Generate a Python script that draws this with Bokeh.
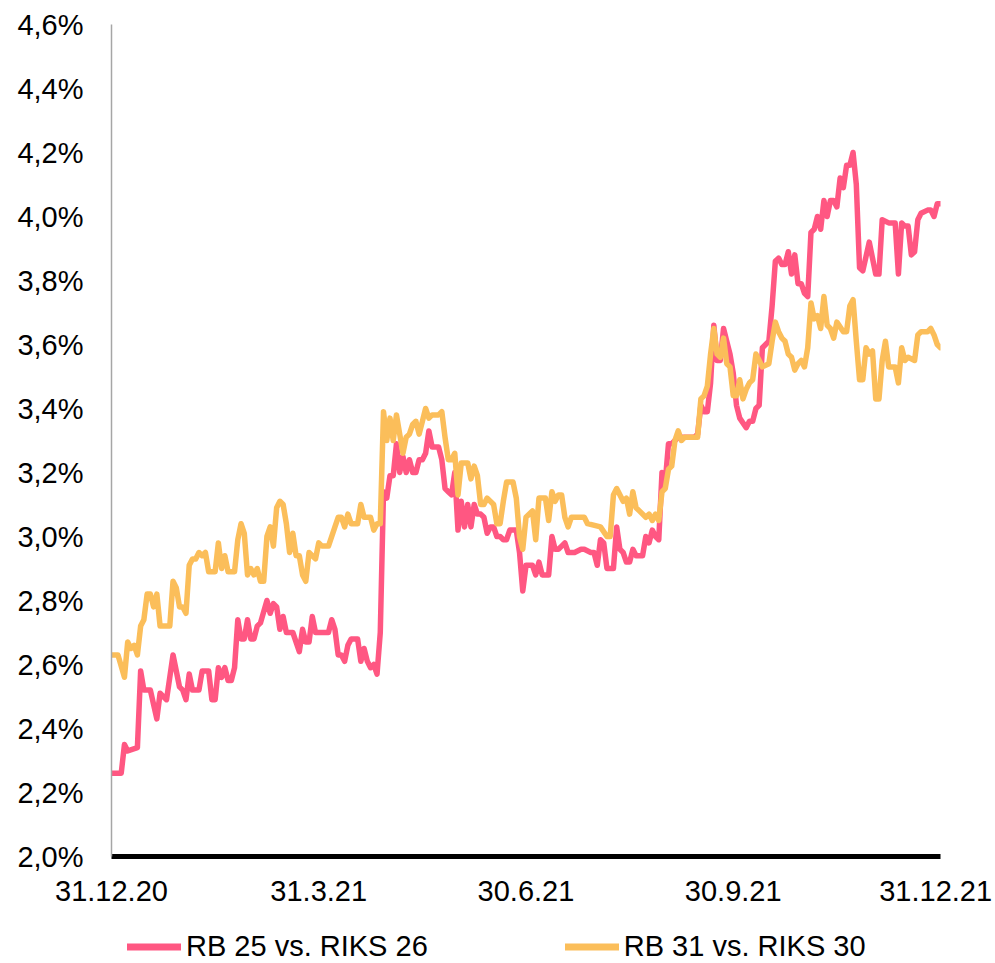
from bokeh.plotting import figure
from bokeh.layouts import column
from bokeh.models import Range1d, FixedTicker, CustomJSTickFormatter, Legend, LegendItem, ColumnDataSource
from bokeh.embed import file_html
from bokeh.resources import INLINE

# ---- data (trading-day index since 31.12.20, spread in %) ----
pink_day = [0, 3, 4, 5, 8, 9, 10, 12, 14, 15, 17, 19, 21, 22, 23, 24, 25, 27, 28, 30,
            31, 32, 33, 34, 35, 36, 37, 38, 39, 40, 41, 42, 43, 44, 45, 46, 48, 49, 50, 51,
            52, 53, 54, 56, 58, 59, 60, 61, 62, 63, 67, 68, 69, 70, 71, 72, 73, 74, 76, 77,
            78, 79, 80, 81, 82, 83, 84, 85, 86, 87, 88, 89, 90, 91, 92, 93, 94, 95, 96, 97,
            98, 99, 101, 102, 103, 104, 105, 106, 107, 108, 109, 110, 111, 112, 113, 114, 115, 116, 117, 118,
            119, 120, 121, 122, 123, 125, 126, 127, 128, 130, 131, 132, 133, 135, 136, 137, 138, 139, 140, 141,
            143, 145, 146, 148, 149, 150, 151, 152, 153, 155, 156, 157, 158, 159, 160, 161, 162, 164, 165, 166,
            167, 168, 169, 170, 171, 172, 173, 174, 175, 177, 180, 181, 182, 183, 184, 185, 186, 187, 188, 189,
            190, 191, 192, 193, 194, 196, 197, 198, 199, 200, 201, 202, 203, 204, 205, 206, 207, 208, 209, 210,
            211, 212, 213, 214, 215, 216, 217, 218, 219, 220, 221, 222, 223, 224, 225, 226, 227, 228, 229, 230,
            231, 232, 234, 235, 236, 237, 238, 240, 241, 242, 243, 244, 245, 246, 247, 248, 249, 250, 252, 253,
            254, 255, 256]
pink_val = [2.26, 2.26, 2.35, 2.33, 2.34, 2.58, 2.52, 2.52, 2.43, 2.51, 2.49, 2.63, 2.53, 2.52, 2.49, 2.57, 2.52, 2.52, 2.58, 2.58,
            2.49, 2.49, 2.59, 2.56, 2.59, 2.55, 2.55, 2.59, 2.74, 2.68, 2.68, 2.74, 2.68, 2.68, 2.72, 2.73, 2.80, 2.76, 2.79, 2.78,
            2.71, 2.75, 2.70, 2.70, 2.64, 2.71, 2.67, 2.67, 2.75, 2.70, 2.70, 2.74, 2.71, 2.63, 2.63, 2.61, 2.66, 2.68, 2.68, 2.61,
            2.65, 2.61, 2.59, 2.60, 2.57, 2.70, 3.14, 3.12, 3.19, 3.19, 3.29, 3.20, 3.25, 3.20, 3.24, 3.20, 3.20, 3.24, 3.24, 3.26,
            3.33, 3.28, 3.28, 3.24, 3.15, 3.14, 3.13, 3.20, 3.02, 3.11, 3.03, 3.10, 3.03, 3.10, 3.07, 3.07, 3.06, 3.01, 3.03, 3.03,
            3.00, 3.00, 2.99, 2.99, 3.02, 3.02, 2.95, 2.83, 2.91, 2.91, 2.88, 2.92, 2.88, 2.88, 3.00, 2.96, 2.96, 2.97, 2.98, 2.95,
            2.95, 2.96, 2.96, 2.95, 2.95, 2.91, 2.99, 2.98, 2.90, 2.90, 3.03, 2.96, 2.95, 2.92, 2.92, 2.96, 2.94, 2.94, 3.00, 2.98,
            3.02, 3.00, 2.99, 3.20, 3.17, 3.29, 3.29, 3.30, 3.31, 3.31, 3.31, 3.32, 3.41, 3.39, 3.39, 3.48, 3.66, 3.55, 3.55, 3.65,
            3.61, 3.57, 3.51, 3.41, 3.37, 3.34, 3.36, 3.36, 3.40, 3.41, 3.59, 3.60, 3.61, 3.72, 3.86, 3.87, 3.85, 3.85, 3.89, 3.82,
            3.88, 3.79, 3.79, 3.76, 3.75, 3.95, 3.96, 4.00, 3.96, 4.05, 4.00, 4.05, 4.05, 4.03, 4.12, 4.09, 4.16, 4.16, 4.20, 4.10,
            3.84, 3.83, 3.92, 3.87, 3.82, 3.82, 3.99, 3.98, 3.98, 3.98, 3.82, 3.98, 3.97, 3.97, 3.88, 3.89, 3.99, 4.01, 4.02, 4.02,
            4.00, 4.04, 4.04]

yellow_day = [0, 2, 4, 5, 6, 7, 8, 9, 10, 11, 12, 13, 14, 15, 18, 19, 20, 21, 22, 23,
              24, 25, 26, 27, 28, 29, 30, 32, 33, 34, 35, 36, 38, 39, 40, 41, 42, 43, 44, 45,
              46, 47, 48, 49, 50, 51, 52, 53, 54, 55, 56, 57, 58, 59, 60, 61, 62, 63, 64, 65,
              67, 69, 70, 71, 72, 73, 74, 76, 77, 78, 80, 81, 82, 83, 84, 85, 86, 87, 88, 89,
              90, 91, 92, 93, 94, 95, 96, 97, 98, 99, 101, 102, 103, 104, 105, 106, 107, 108, 110, 111,
              112, 113, 114, 115, 116, 118, 119, 120, 121, 122, 124, 125, 126, 127, 128, 130, 131, 132, 134, 135,
              136, 137, 138, 139, 140, 141, 142, 146, 147, 151, 153, 154, 155, 156, 158, 159, 160, 161, 162, 163,
              165, 166, 167, 168, 169, 170, 171, 172, 173, 174, 175, 176, 177, 181, 182, 183, 184, 185, 186, 187,
              188, 189, 190, 191, 192, 193, 194, 195, 196, 197, 198, 199, 200, 201, 203, 204, 205, 206, 207, 208,
              209, 210, 211, 212, 213, 214, 215, 216, 217, 218, 219, 220, 221, 222, 223, 224, 226, 227, 228, 229,
              230, 231, 232, 233, 234, 235, 236, 237, 238, 239, 240, 242, 243, 244, 245, 246, 248, 249, 250, 252,
              253, 254, 255, 256]
yellow_val = [2.63, 2.63, 2.56, 2.67, 2.65, 2.66, 2.63, 2.72, 2.74, 2.82, 2.82, 2.78, 2.82, 2.72, 2.72, 2.86, 2.84, 2.78, 2.78, 2.76,
              2.91, 2.93, 2.93, 2.95, 2.94, 2.95, 2.89, 2.89, 2.98, 2.90, 2.94, 2.89, 2.89, 2.99, 3.04, 3.01, 2.88, 2.90, 2.88, 2.90,
              2.86, 2.86, 3.00, 3.03, 2.97, 3.09, 3.11, 3.10, 3.04, 2.95, 3.01, 2.94, 2.94, 2.88, 2.86, 2.95, 2.94, 2.93, 2.98, 2.97,
              2.97, 3.03, 3.06, 3.06, 3.03, 3.07, 3.04, 3.04, 3.10, 3.06, 3.06, 3.02, 3.04, 3.04, 3.39, 3.30, 3.37, 3.30, 3.38, 3.32,
              3.26, 3.31, 3.32, 3.35, 3.36, 3.32, 3.36, 3.40, 3.37, 3.38, 3.38, 3.39, 3.31, 3.24, 3.24, 3.26, 3.13, 3.23, 3.23, 3.18,
              3.22, 3.19, 3.10, 3.10, 3.12, 3.10, 3.04, 3.04, 3.11, 3.17, 3.17, 3.12, 3.00, 2.96, 3.06, 3.08, 2.99, 3.12, 3.12, 3.05,
              3.14, 3.11, 3.13, 3.13, 3.06, 3.03, 3.06, 3.06, 3.04, 3.03, 3.00, 3.00, 3.13, 3.15, 3.11, 3.12, 3.07, 3.14, 3.09, 3.08,
              3.06, 3.07, 3.05, 3.07, 3.05, 3.14, 3.15, 3.21, 3.22, 3.30, 3.33, 3.30, 3.31, 3.31, 3.43, 3.44, 3.47, 3.57, 3.65, 3.57,
              3.56, 3.62, 3.54, 3.53, 3.44, 3.44, 3.49, 3.43, 3.46, 3.48, 3.49, 3.57, 3.55, 3.53, 3.54, 3.61, 3.67, 3.64, 3.62, 3.61,
              3.57, 3.56, 3.52, 3.54, 3.55, 3.53, 3.59, 3.73, 3.68, 3.69, 3.65, 3.75, 3.66, 3.65, 3.62, 3.67, 3.64, 3.64, 3.72, 3.74,
              3.61, 3.49, 3.49, 3.59, 3.57, 3.58, 3.43, 3.43, 3.55, 3.61, 3.53, 3.53, 3.48, 3.59, 3.55, 3.56, 3.55, 3.63, 3.64, 3.64,
              3.65, 3.63, 3.60, 3.59]

series_names = ["RB 25 vs. RIKS 26", "RB 31 vs. RIKS 30"]
x_tick_labels = ["31.12.20", "31.3.21", "30.6.21", "30.9.21", "31.12.21"]
y_ticks = [2.0, 2.2, 2.4, 2.6, 2.8, 3.0, 3.2, 3.4, 3.6, 3.8, 4.0, 4.2, 4.4, 4.6]
y_tick_labels = ["2,0%", "2,2%", "2,4%", "2,6%", "2,8%", "3,0%", "3,2%", "3,4%",
                 "3,6%", "3,8%", "4,0%", "4,2%", "4,4%", "4,6%"]

# ---- styling ----
PINK = "#FF5782"
YELLOW = "#FBBE5A"
FONT = "Liberation Sans"
FS = "29px"

LOOKUP = """
let b = 0;
for (let i = 0; i < tvals.length; i++) { if (Math.abs(tvals[i] - tick) < Math.abs(tvals[b] - tick)) b = i; }
return labs[b];
"""

src_p = ColumnDataSource(dict(x=pink_day, y=pink_val))
src_y = ColumnDataSource(dict(x=yellow_day, y=yellow_val))

# ---- main chart ----
p = figure(width=995, height=918, output_backend="svg", toolbar_location=None,
           x_range=Range1d(0, 256), y_range=Range1d(2.0, 4.6),
           min_border_left=111, min_border_right=55, min_border_top=24, min_border_bottom=62)
p.background_fill_color = "white"
p.border_fill_color = "white"
p.outline_line_color = None
p.grid.visible = False

p.line("x", "y", source=src_p, line_color=PINK, line_width=5.5, line_join="round", line_cap="round")
p.line("x", "y", source=src_y, line_color=YELLOW, line_width=5.5, line_join="round", line_cap="round")

x_tick_pos = [0, 64, 128, 192, 254.5]
p.xaxis.ticker = FixedTicker(ticks=x_tick_pos)
p.xaxis.formatter = CustomJSTickFormatter(args=dict(tvals=x_tick_pos, labs=x_tick_labels), code=LOOKUP)
p.xaxis.axis_line_color = "black"
p.xaxis.axis_line_width = 5
p.xaxis.major_tick_out = 0
p.xaxis.major_tick_in = 0
p.xaxis.minor_tick_out = 0
p.xaxis.minor_tick_in = 0
p.xaxis.major_label_standoff = 24
p.xaxis.major_label_text_font = FONT
p.xaxis.major_label_text_font_size = FS
p.xaxis.major_label_text_color = "black"

p.yaxis.ticker = FixedTicker(ticks=y_ticks)
p.yaxis.formatter = CustomJSTickFormatter(args=dict(tvals=y_ticks, labs=y_tick_labels), code=LOOKUP)
p.yaxis.axis_line_color = "#a6a6a6"
p.yaxis.axis_line_width = 1.5
p.yaxis.major_tick_out = 0
p.yaxis.major_tick_in = 0
p.yaxis.minor_tick_out = 0
p.yaxis.minor_tick_in = 0
p.yaxis.major_label_standoff = 28
p.yaxis.major_label_text_font = FONT
p.yaxis.major_label_text_font_size = FS
p.yaxis.major_label_text_color = "black"

# ---- legend strip below the chart (series drawn out of its view; only keys show) ----
lg = figure(width=995, height=45, output_backend="svg", toolbar_location=None,
            x_range=Range1d(0, 256), y_range=Range1d(0, 1),
            x_axis_type=None, y_axis_type=None, min_border=0)
lg.outline_line_color = None
lg.grid.visible = False
lg.background_fill_color = "white"
lg.border_fill_color = "white"
k_p = lg.line("x", "y", source=src_p, line_color=PINK, line_width=7, line_cap="round")
k_y = lg.line("x", "y", source=src_y, line_color=YELLOW, line_width=7, line_cap="round")
legend = Legend(items=[LegendItem(label=series_names[0], renderers=[k_p]),
                       LegendItem(label=series_names[1], renderers=[k_y])],
                location=(16, 0), orientation="horizontal",
                glyph_width=54, glyph_height=29, label_standoff=5, spacing=137,
                padding=0, margin=0, border_line_color=None, background_fill_alpha=0,
                label_text_font=FONT, label_text_font_size=FS, label_text_color="black",
                label_height=29)
lg.add_layout(legend)

layout = column(p, lg, spacing=0)
open("out.html", "w").write(file_html(layout, INLINE))
